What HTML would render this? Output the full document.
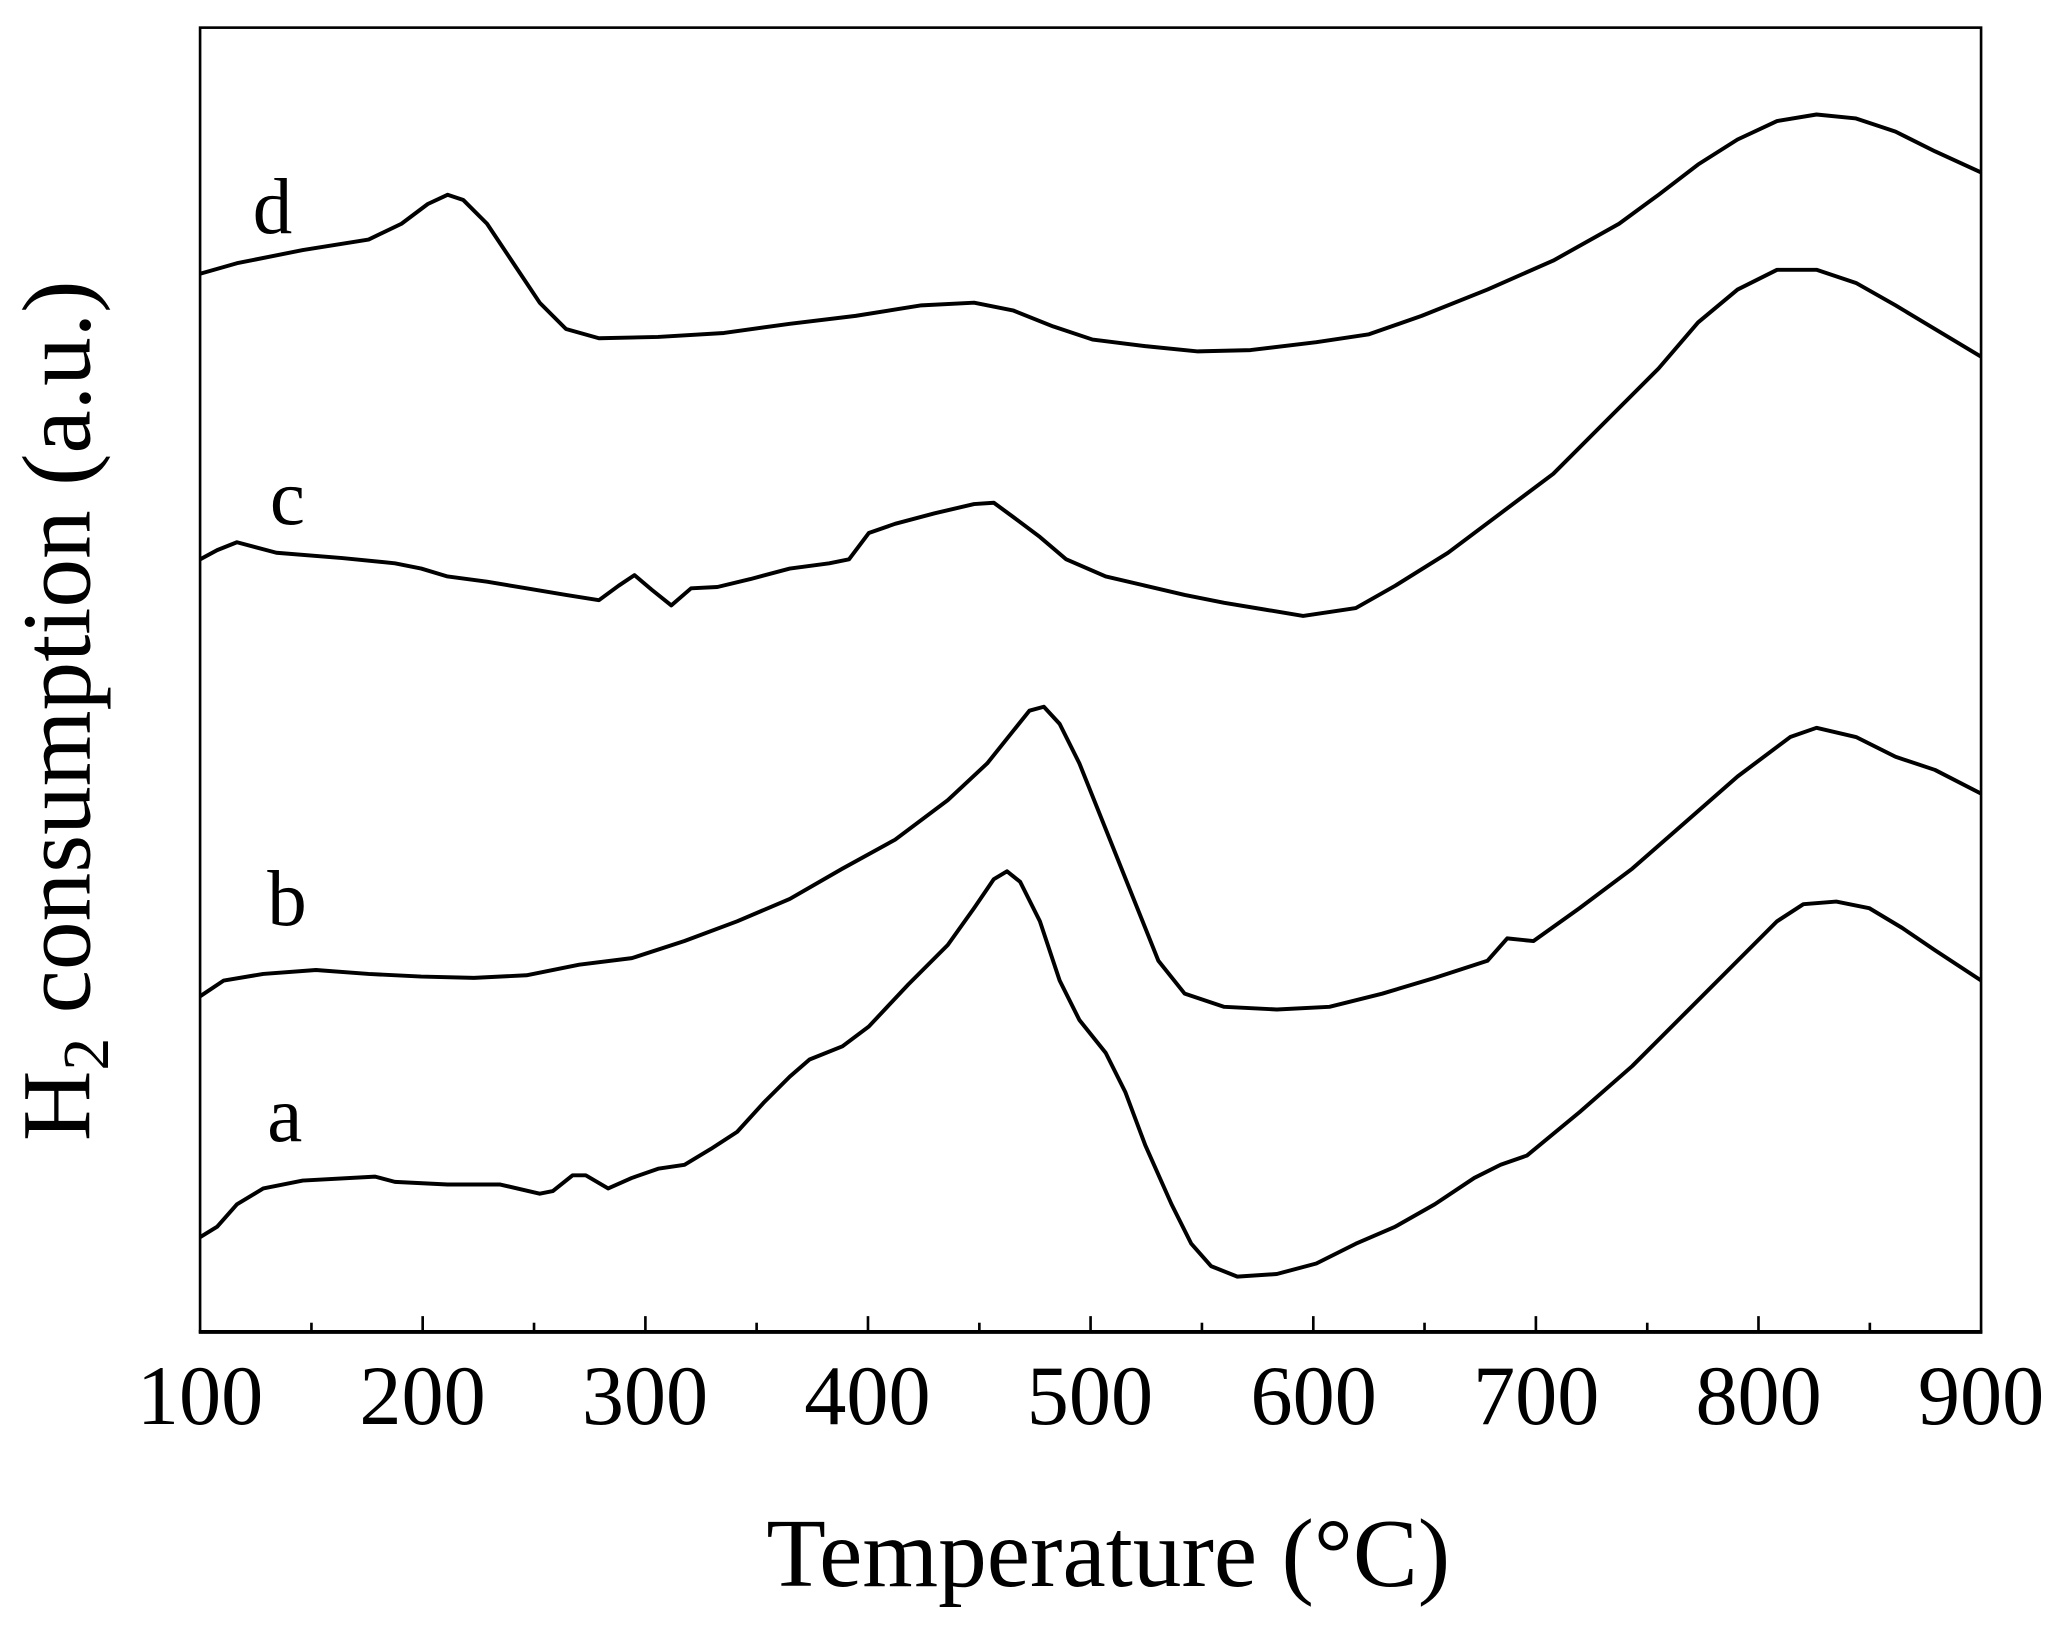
<!DOCTYPE html>
<html><head><meta charset="utf-8"><style>html,body{margin:0;padding:0;background:#fff}svg{display:block}</style></head>
<body>
<svg width="2064" height="1632" viewBox="0 0 1568 1240" preserveAspectRatio="none" xmlns="http://www.w3.org/2000/svg">
<rect x="0" y="0" width="1568" height="1240" fill="#fff"/>
<rect x="152" y="21" width="1353" height="991" fill="none" stroke="#000" stroke-width="2"/>
<line x1="151" y1="1012" x2="1506" y2="1012" stroke="#000" stroke-width="3"/>
<g stroke="#000" stroke-width="2">
<line x1="236.6" y1="1012" x2="236.6" y2="1005"/>
<line x1="321.1" y1="1012" x2="321.1" y2="1000"/>
<line x1="405.7" y1="1012" x2="405.7" y2="1005"/>
<line x1="490.3" y1="1012" x2="490.3" y2="1000"/>
<line x1="574.8" y1="1012" x2="574.8" y2="1005"/>
<line x1="659.4" y1="1012" x2="659.4" y2="1000"/>
<line x1="744" y1="1012" x2="744" y2="1005"/>
<line x1="828.5" y1="1012" x2="828.5" y2="1000"/>
<line x1="913.1" y1="1012" x2="913.1" y2="1005"/>
<line x1="997.7" y1="1012" x2="997.7" y2="1000"/>
<line x1="1082.2" y1="1012" x2="1082.2" y2="1005"/>
<line x1="1166.8" y1="1012" x2="1166.8" y2="1000"/>
<line x1="1251.4" y1="1012" x2="1251.4" y2="1005"/>
<line x1="1335.9" y1="1012" x2="1335.9" y2="1000"/>
<line x1="1420.5" y1="1012" x2="1420.5" y2="1005"/>
</g>
<g font-family="Liberation Serif, serif" font-size="64" text-anchor="middle" fill="#000">
<text x="152" y="1082">100</text><text x="321" y="1082">200</text><text x="490" y="1082">300</text>
<text x="659" y="1082">400</text><text x="828" y="1082">500</text><text x="998" y="1082">600</text>
<text x="1167" y="1082">700</text><text x="1336" y="1082">800</text><text x="1505" y="1082">900</text>
</g>
<text x="842" y="1205" font-family="Liberation Serif, serif" font-size="74" text-anchor="middle">Temperature (°C)</text>
<text transform="translate(68,540) rotate(-90)" font-family="Liberation Serif, serif" font-size="74" text-anchor="middle">H<tspan font-size="50" dy="14">2</tspan><tspan dy="-14"> consumption (a.u.)</tspan></text>
<g font-family="Liberation Serif, serif" font-size="60" fill="#000">
<text x="192" y="177">d</text><text x="205" y="398">c</text><text x="203" y="703">b</text><text x="203" y="867">a</text>
</g>
<g fill="none" stroke="#000" stroke-width="3" stroke-linejoin="round">
<polyline points="152,208 180,200 230,190 280,182 305,170 325,155 340,148 352,152 370,170 390,200 410,230 430,250 455,257 500,256 550,253 600,246 650,240 700,232 740,230 770,236 800,248 830,258 870,263 910,267 950,266 1000,260 1040,254 1080,240 1130,220 1180,198 1230,170 1260,148 1290,125 1320,106 1350,92 1380,87 1410,90 1440,100 1470,115 1505,131"/>
<polyline points="152,425 165,418 180,412 210,420 260,424 300,428 320,432 340,438 370,442 400,447 430,452 455,456 470,445 482,437 495,448 510,460 525,447 545,446 570,440 600,432 630,428 645,425 660,405 680,398 710,390 740,383 755,382 770,393 790,408 810,425 840,438 870,445 900,452 930,458 960,463 990,468 1030,462 1060,445 1100,420 1140,390 1180,360 1220,320 1260,280 1290,245 1320,220 1350,205 1380,205 1410,215 1440,232 1470,250 1505,271"/>
<polyline points="152,757 170,745 200,740 240,737 280,740 320,742 360,743 400,741 440,733 480,728 520,715 560,700 600,683 640,660 680,638 720,608 750,580 770,555 782,540 793,537 805,550 820,580 840,630 860,680 880,730 900,755 930,765 970,767 1010,765 1050,755 1090,743 1130,730 1145,713 1165,715 1200,690 1240,660 1280,625 1320,590 1360,560 1380,553 1410,560 1440,575 1470,585 1505,603"/>
<polyline points="152,940 165,932 180,915 200,903 230,897 285,894 300,898 340,900 380,900 410,907 420,905 435,893 445,893 462,903 480,895 500,888 520,885 540,873 560,860 580,838 600,818 615,805 640,795 660,780 690,748 720,718 740,690 755,668 765,662 775,670 790,700 805,745 820,775 840,800 855,830 870,870 890,915 905,945 920,962 940,970 970,968 1000,960 1030,945 1060,932 1090,915 1120,895 1140,885 1160,878 1200,845 1240,810 1280,770 1320,730 1350,700 1370,687 1395,685 1420,690 1445,705 1470,722 1505,745"/>
</g>
</svg>
</body></html>
